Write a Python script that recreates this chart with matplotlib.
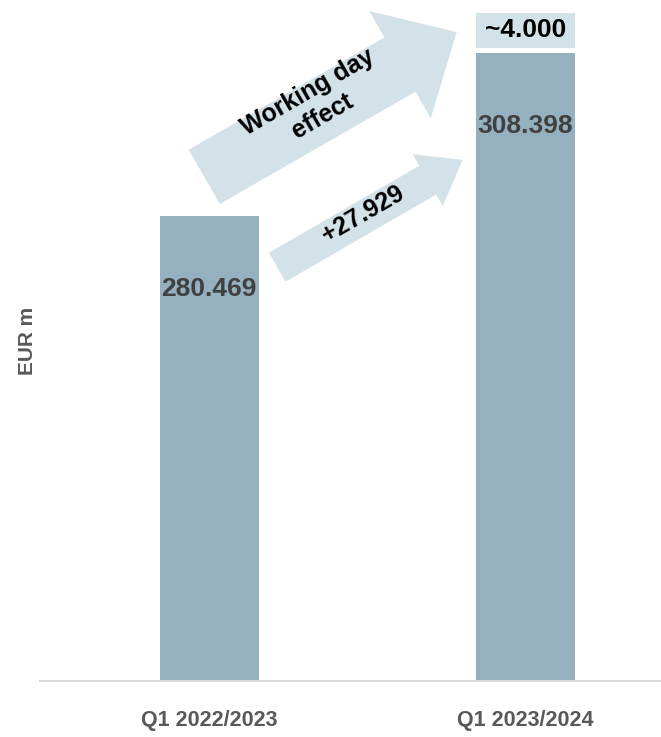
import matplotlib.pyplot as plt

categories = ["Q1 2022/2023", "Q1 2023/2024"]
values = [280.469, 308.398]
value_labels = ["280.469", "308.398"]
delta_label = "+27.929"
wd_label = "~4.000"
wd_text = "Working day\neffect"

bar_col = "#95b1bf"
light_col = "#d3e1e9"
txt_col = "#404040"

plt.rcParams["font.family"] = ["Liberation Sans", "DejaVu Sans"]

fig = plt.figure(figsize=(6.61, 7.37), dpi=100)
ax = fig.add_axes([40 / 661, 56 / 737, 621 / 661, 681 / 737])

x = list(range(len(categories)))
ax.bar(x, values, width=0.313, color=bar_col, zorder=2)
ax.set_xlim(-0.536, 1.43)
ax.set_ylim(200.8, 317.5)

for xi, v, lab in zip(x, values, value_labels):
    ax.annotate(lab, xy=(xi, v), xytext=(0, -52.5), textcoords="offset points",
                ha="center", va="center", fontsize=19, fontweight="bold",
                color=txt_col, zorder=4)

# working day effect box on top of second bar
ax.annotate(wd_label, xy=(1, values[1]), xytext=(0, 16.5), textcoords="offset points",
            ha="center", va="center", fontsize=19, fontweight="bold", color="black",
            bbox=dict(boxstyle="square,pad=0.34", fc=light_col, ec="none",
                      mutation_aspect=0.62), zorder=4)

# arrows
ax.annotate("", xy=(0.783, 312.0), xytext=(-0.016, 287.2),
            arrowprops=dict(arrowstyle="simple,head_length=4.7,head_width=8.9,tail_width=4.5",
                            mutation_scale=10, fc=light_col, ec="none",
                            shrinkA=0, shrinkB=0), zorder=1)
ax.annotate("", xy=(0.802, 290.1), xytext=(0.215, 271.7),
            arrowprops=dict(arrowstyle="simple,head_length=2.9,head_width=4.3,tail_width=2.4",
                            mutation_scale=10, fc=light_col, ec="none",
                            shrinkA=0, shrinkB=0), zorder=1)

ax.text(0.335, 299.6, wd_text, rotation=30, ha="center", va="center", fontsize=18,
        fontweight="bold", color="black", linespacing=1.2, rotation_mode="anchor", zorder=3)
ax.text(0.485, 280.8, delta_label, rotation=30, ha="center", va="center", fontsize=18,
        fontweight="bold", color="black", rotation_mode="anchor", zorder=3)

ax.set_xticks(x)
ax.set_xticklabels(categories, fontsize=15.5, fontweight="bold", color="#595959")
ax.tick_params(axis="x", length=0, pad=21)
ax.set_yticks([])
ax.set_ylabel("EUR m", fontsize=15, fontweight="bold", color="#595959")
ax.yaxis.set_label_coords(-0.005, 0.5)
for s in ["top", "right", "left"]:
    ax.spines[s].set_visible(False)
ax.spines["bottom"].set_color("#d9d9d9")
ax.spines["bottom"].set_linewidth(1.5)

fig.savefig("out.png", dpi=100)
